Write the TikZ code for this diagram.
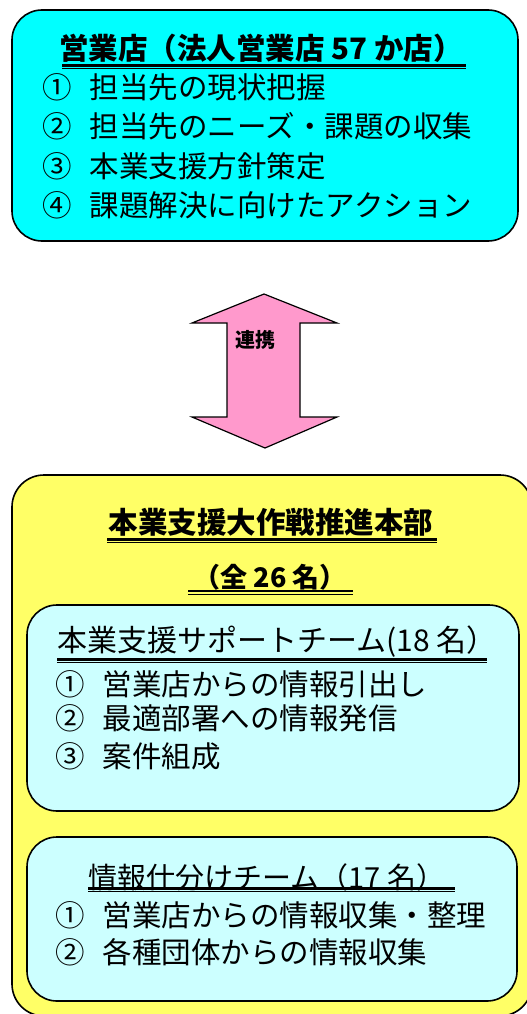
\documentclass[tikz,border=0pt]{standalone}
\usepackage{fontspec}
\newfontfamily\jp{Noto Sans CJK JP}
\definecolor{topcyan}{RGB}{0,255,255}
\definecolor{lcyan}{RGB}{204,255,255}
\definecolor{yel}{RGB}{255,255,102}
\definecolor{pinkc}{RGB}{255,153,204}
\tikzset{
  box/.style={draw=black, line width=1.6pt, rounded corners=30pt},
  ttl/.style={inner sep=0pt, font=\jp\bfseries\fontsize{29.5}{30}\selectfont},
  subttl/.style={inner sep=0pt, anchor=west, font=\jp\fontsize{30}{30}\selectfont},
  item/.style={inner sep=0pt, anchor=west, font=\jp\fontsize{29.5}{30}\selectfont},
  ulthick/.style={line width=2.2pt},
  ulthin/.style={line width=1pt},
}
\begin{document}
\begin{tikzpicture}[x=1pt,y=-1pt]
\useasboundingbox (0,0) rectangle (527,1014);
% top box
\draw[box, fill=topcyan] (12,10) rectangle (518,241);
\node[ttl] (t1) at (261,48) {営業店（法人営業店 57 か店）};
\draw[ulthick] (62,65.5) -- (466,65.5);
\draw[ulthin] (62,68.8) -- (466,68.8);
\node[item] (a1) at (42,87) {①\hspace{0.62em}担当先の現状把握};
\node[item] (a2) at (42,126) {②\hspace{0.62em}担当先のニーズ・課題の収集};
\node[item] (a3) at (42,166) {③\hspace{0.62em}本業支援方針策定};
\node[item] (a4) at (42,205) {④\hspace{0.62em}課題解決に向けたアクション};
% arrow
\draw[line width=1.2pt, fill=pinkc, line join=miter]
  (264,294) -- (337,323) -- (300,323) -- (300,417) -- (337,417) -- (265,448)
  -- (192,417) -- (227,417) -- (227,323) -- (192,323) -- cycle;
\node[inner sep=0pt, font=\jp\bfseries\fontsize{20}{22}\selectfont] (lk) at (255,340) {連携};
% big yellow box
\begin{scope}
\clip (0,0) rectangle (527,1014);
\draw[box, fill=yel, rounded corners=32pt] (12,475) rectangle (532,1016);
\end{scope}
\node[ttl] (t2) at (271,522) {本業支援大作戦推進本部};
\draw[ulthick] (107,539.5) -- (437,539.5);
\draw[ulthin] (107,542.8) -- (437,542.8);
\node[ttl, font=\jp\bfseries\fontsize{27}{30}\selectfont] (t3) at (270,577) {（全 26 名）};
\draw[ulthick] (188,591) -- (353,591);
\draw[ulthin] (188,594.3) -- (353,594.3);
% inner box 1
\draw[box, fill=lcyan] (27,605) rectangle (519,811);
\node[subttl] (t4) at (57,642) {本業支援サポートチーム(18 名）};
\draw[ulthick] (57,659.5) -- (487,659.5);
\draw[ulthin] (57,662.8) -- (487,662.8);
\node[item] (b1) at (55,684) {①\hspace{0.62em}営業店からの情報引出し};
\node[item] (b2) at (55,718) {②\hspace{0.62em}最適部署への情報発信};
\node[item] (b3) at (55,756) {③\hspace{0.62em}案件組成};
% inner box 2
\draw[box, fill=lcyan] (27,837) rectangle (517,1001);
\node[subttl, font=\jp\fontsize{29}{30}\selectfont] (t5) at (88,877) {情報仕分けチーム（17 名）};
\draw[ulthick] (88,888.5) -- (455,888.5);
\draw[ulthin] (88,891.8) -- (455,891.8);
\node[item] (c1) at (55,915) {①\hspace{0.62em}営業店からの情報収集・整理};
\node[item] (c2) at (55,952) {②\hspace{0.62em}各種団体からの情報収集};
\end{tikzpicture}
\end{document}
